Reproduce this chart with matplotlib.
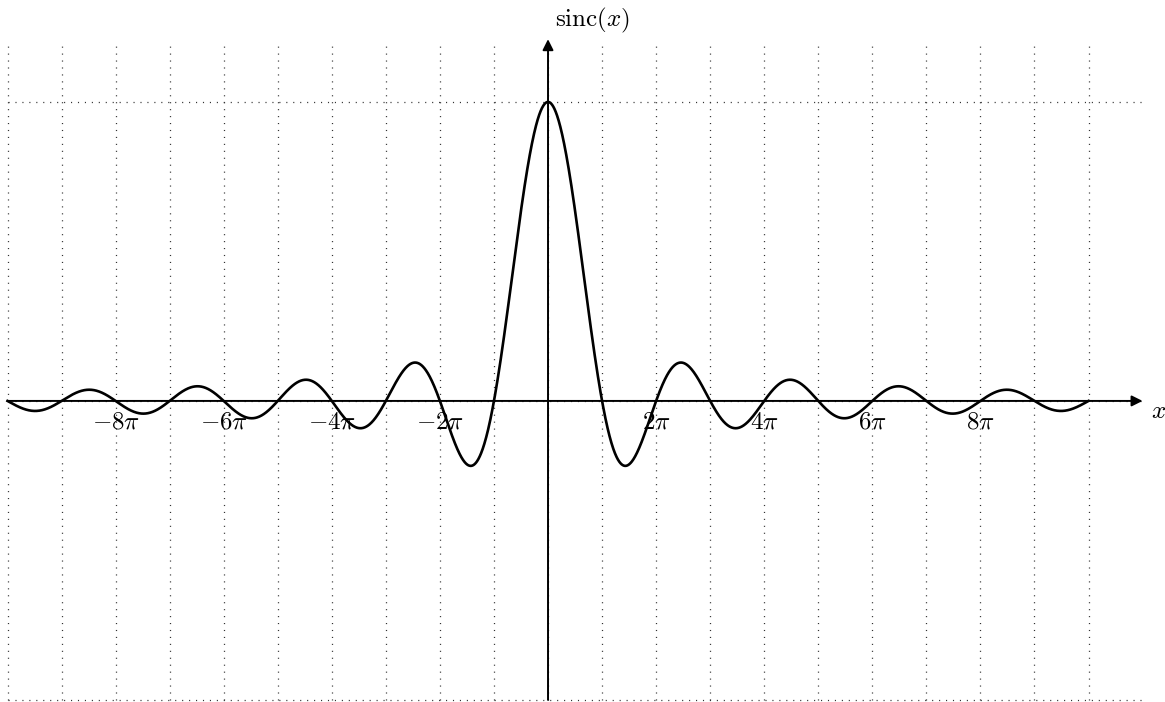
import numpy as np
import matplotlib.pyplot as plt

plt.rcParams['mathtext.fontset'] = 'cm'
plt.rcParams['lines.scale_dashes'] = False

# chart data
x_start = -10 * np.pi
x_end = 10 * np.pi
tick_values = [-8 * np.pi, -6 * np.pi, -4 * np.pi, -2 * np.pi,
               2 * np.pi, 4 * np.pi, 6 * np.pi, 8 * np.pi]
tick_labels = [r'$-8\pi$', r'$-6\pi$', r'$-4\pi$', r'$-2\pi$',
               r'$2\pi$', r'$4\pi$', r'$6\pi$', r'$8\pi$']
grid_x = [k * np.pi for k in range(-10, 11)]
grid_y = [-1, 0, 1]

# the plotted function: sinc(x) = sin(x)/x
x = np.linspace(x_start, x_end, 4000)
y = np.sinc(x / np.pi)

fig = plt.figure(figsize=(11.65, 7.02), dpi=100)
ax = fig.add_axes([0, 0, 1, 1])
ax.set_xlim(-10.139 * np.pi, 11.415 * np.pi)
ax.set_ylim(-1.007, 1.341)
ax.axis('off')

# dotted grid
grid_right = 11.05 * np.pi
grid_top = 1.19
dots = (0, (0.8, 4.2))
for gx in grid_x:
    ax.plot([gx, gx], [-1, grid_top], color='#333333', lw=0.9, ls=dots, zorder=1)
for gy in grid_y:
    ax.plot([x_start, grid_right], [gy, gy], color='#333333', lw=0.9, ls=dots, zorder=1)

# axes with arrows
arrow = dict(arrowstyle='-|>', lw=1.4, color='black', mutation_scale=16,
             shrinkA=0, shrinkB=0)
ax.annotate('', xy=(11.0 * np.pi, 0), xytext=(x_start, 0), arrowprops=arrow, zorder=3)
ax.annotate('', xy=(0, 1.21), xytext=(0, -1), arrowprops=arrow, zorder=3)

ax.text(11.15 * np.pi, -0.035, r'$x$', fontsize=18, ha='left', va='center')
ax.text(0.13 * np.pi, 1.225, r'$\mathrm{sinc}(x)$', fontsize=18, ha='left', va='bottom')

for tv, tl in zip(tick_values, tick_labels):
    ax.text(tv, -0.028, tl, fontsize=18, ha='center', va='top', zorder=2)

ax.plot(x, y, color='black', lw=1.9, zorder=4)

fig.savefig('out.png', dpi=100)
